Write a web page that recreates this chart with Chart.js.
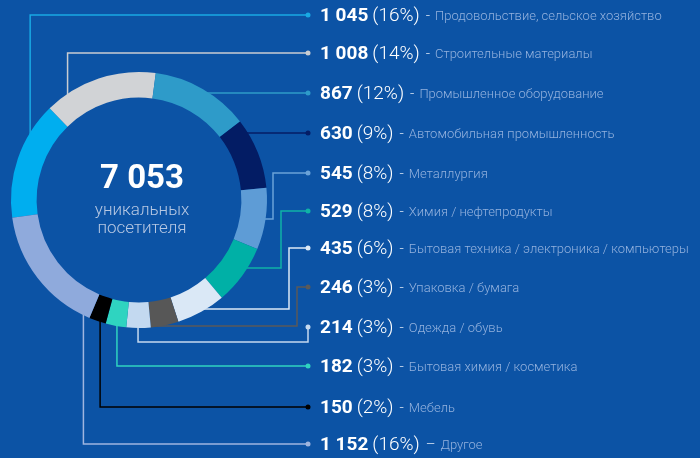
<!DOCTYPE html>
<html>
<head>
<meta charset="utf-8">
<script src="https://cdn.jsdelivr.net/npm/chart.js@4.4.0/dist/chart.umd.min.js"></script>
<style>
  html, body { margin: 0; padding: 0; background: #0c53a5; }
  #wrap { width: 700px; height: 458px; position: relative; }
</style>
</head>
<body>
<div id="wrap"><canvas id="donut"></canvas></div>
<script>
// данные
const totalVisitors = '7 053';
const centerCaption = ['уникальных', 'посетителя'];

const categories = [
  'Продовольствие, сельское хозяйство',
  'Строительные материалы',
  'Промышленное оборудование',
  'Автомобильная промышленность',
  'Металлургия',
  'Химия / нефтепродукты',
  'Бытовая техника / электроника / компьютеры',
  'Упаковка / бумага',
  'Одежда / обувь',
  'Бытовая химия / косметика',
  'Мебель',
  'Другое'
];
const visitorCounts = [1045, 1008, 867, 630, 545, 529, 435, 246, 214, 182, 150, 1152];
const visitorLabels = ['1 045', '1 008', '867', '630', '545', '529', '435', '246', '214', '182', '150', '1 152'];
const shareLabels = ['16%', '14%', '12%', '9%', '8%', '8%', '6%', '3%', '3%', '3%', '2%', '16%'];
const dashes = ['-', '-', '-', '-', '-', '-', '-', '-', '-', '-', '-', '–'];

const segmentColors = ['#00aeef', '#d1d3d6', '#2e9bc9', '#031c64', '#5e9cd6', '#00b0a6',
                       '#dae8f6', '#575757', '#c3d9f0', '#2fd4c0', '#000000', '#8faadc'];
const lineColors = ['#19a9e3', '#c9cdd2', '#2e9bc9', '#041d66', '#6aa2d8', '#0fb3a6',
                    '#dce9f6', '#5a5a5a', '#c5d9ef', '#2fd3c0', '#000000', '#9fb5df'];

// раскладка подписей справа
const rowY = [15, 53, 93, 133, 173, 211, 248, 287, 327, 366, 407, 444];
const dotX = 308;
const textX = 320;
// как ведём выноску от сегмента: тип, доля внутри сегмента, излом
const leaders = [
  { type: 'v', f: 0.74 },
  { type: 'v', f: 0.20 },
  { type: 'h' },
  { type: 'h' },
  { type: 'elbow', f: 0.50, x: 273 },
  { type: 'elbow', f: 0.35, x: 281 },
  { type: 'elbow', f: 0.39, x: 289 },
  { type: 'elbow', f: 0.62, x: 297 },
  { type: 'u', f: 0.52, y: 342 },
  { type: 'v', f: 0.45 },
  { type: 'v', f: 0.34 },
  { type: 'v', f: 0.05 }
];

function arcPoint(arc, f) {
  const a = arc.startAngle + f * (arc.endAngle - arc.startAngle);
  return { x: arc.x + arc.outerRadius * Math.cos(a), y: arc.y + arc.outerRadius * Math.sin(a) };
}

const leaderLines = {
  id: 'leaderLines',
  beforeDatasetsDraw(chart) {
    const ctx = chart.ctx;
    const arcs = chart.getDatasetMeta(0).data;
    ctx.save();
    ctx.lineWidth = 1.5;
    leaders.forEach((l, i) => {
      const arc = arcs[i];
      const y = rowY[i];
      const pts = [];
      if (l.type === 'v') {
        const p = arcPoint(arc, l.f);
        const dir = y < p.y ? 1 : -1;
        pts.push([p.x, p.y + dir * 6], [p.x, y], [dotX, y]);
      } else if (l.type === 'h') {
        const r = arc.outerRadius;
        const x0 = arc.x + Math.sqrt(r * r - (y - arc.y) * (y - arc.y));
        pts.push([x0 - 6, y], [dotX, y]);
      } else if (l.type === 'elbow') {
        const p = arcPoint(arc, l.f);
        pts.push([p.x - 6, p.y], [l.x, p.y], [l.x, y], [dotX, y]);
      } else if (l.type === 'u') {
        const p = arcPoint(arc, l.f);
        pts.push([p.x, p.y - 6], [p.x, l.y], [dotX, l.y], [dotX, y]);
      }
      ctx.strokeStyle = lineColors[i];
      ctx.beginPath();
      pts.forEach((pt, k) => k ? ctx.lineTo(pt[0], pt[1]) : ctx.moveTo(pt[0], pt[1]));
      ctx.stroke();
    });
    ctx.restore();
  },
  afterDraw(chart) {
    const ctx = chart.ctx;
    const arc = chart.getDatasetMeta(0).data[0];
    ctx.save();
    // центр
    ctx.textAlign = 'center';
    ctx.textBaseline = 'alphabetic';
    ctx.fillStyle = '#ffffff';
    ctx.font = 'bold 33px Roboto';
    ctx.fillText(totalVisitors, arc.x + 3, 188);
    ctx.fillStyle = '#b7c8e3';
    ctx.font = '300 17px Roboto';
    ctx.fillText(centerCaption[0], arc.x + 3, 215);
    ctx.fillText(centerCaption[1], arc.x + 3, 233);

    // подписи справа
    ctx.textAlign = 'left';
    categories.forEach((cat, i) => {
      const y = rowY[i];
      ctx.fillStyle = lineColors[i];
      ctx.beginPath();
      ctx.arc(dotX, y, 2.5, 0, Math.PI * 2);
      ctx.fill();

      let x = textX;
      const base = y + 6;
      ctx.fillStyle = '#ffffff';
      ctx.font = 'bold 19px Roboto';
      ctx.fillText(visitorLabels[i], x, base);
      x += ctx.measureText(visitorLabels[i]).width + 4;
      ctx.font = '300 19px Roboto';
      ctx.fillText('(' + shareLabels[i] + ')', x, base);
      x += ctx.measureText('(' + shareLabels[i] + ')').width + 6;
      ctx.fillStyle = '#dfe8f5';
      ctx.font = '300 15px Roboto';
      ctx.fillText(dashes[i], x, base - 1);
      x += ctx.measureText(dashes[i]).width + 5;
      ctx.fillStyle = '#94b2de';
      ctx.font = '300 13px Roboto';
      ctx.fillText(cat, x, base - 1);
    });
    ctx.restore();
  }
};

new Chart(document.getElementById('donut'), {
  type: 'doughnut',
  data: {
    labels: categories,
    datasets: [{
      data: visitorCounts,
      backgroundColor: segmentColors,
      borderWidth: 0
    }]
  },
  options: {
    responsive: true,
    maintainAspectRatio: false,
    animation: false,
    rotation: -98,
    cutout: '80%',
    layout: { padding: { left: 11, top: 72, right: 433, bottom: 130 } },
    plugins: {
      legend: { display: false },
      tooltip: { enabled: false }
    }
  },
  plugins: [leaderLines]
});
</script>
</body>
</html>
